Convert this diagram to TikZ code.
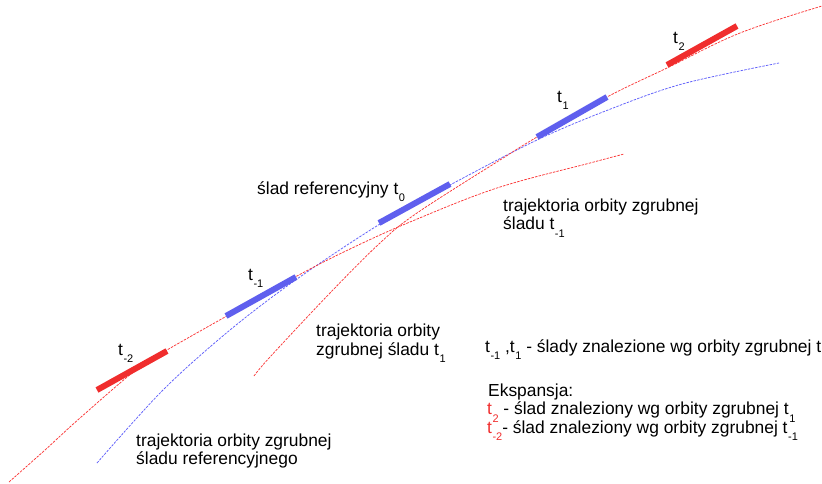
\documentclass[tikz,border=0pt]{standalone}
\usepackage{fontspec}
\setmainfont{Liberation Sans}
\definecolor{tred}{RGB}{240,45,45}
\definecolor{tblue}{RGB}{95,95,238}
\definecolor{lred}{RGB}{250,55,55}
\definecolor{lblue}{RGB}{95,95,250}
\newcommand\lo[1]{\raisebox{-7.5pt}{\kern0.5pt\fontsize{11}{11}\selectfont#1}}
\begin{document}
\begin{tikzpicture}[x=1pt,y=-1pt,
  orbit/.style={line width=0.75pt, dash pattern=on 2.5pt off 1.2pt},
  track/.style={line width=6pt},
  lbl/.style={anchor=base west, inner sep=0pt, font=\fontsize{17.4}{20}\selectfont}]
\useasboundingbox (0,0) rectangle (822,483);
% reference orbit (blue)
\draw[orbit, lblue] plot[smooth, tension=0.55] coordinates {
  (97,463) (163,390) (230,330) (297,279) (380,224)
  (450,185) (537,140) (608,110) (682,84) (779,63)};
% orbit of t-1 (red)
\draw[orbit, lred] plot[smooth, tension=0.6] coordinates {
  (9,482) (45,450) (80,418) (137,369) (167,350) (225,317) (297,276) (350,249)
  (410,222) (497,188) (590,163) (624,154)};
% orbit of t1 (red)
\draw[orbit, lred] plot[smooth, tension=0.6] coordinates {
  (254,376) (270,357) (330,293) (380,243) (417,213) (500,160) (537,137)
  (607,97) (667,68) (740,33) (822,6)};
% tracks
\draw[track, tred]  (97,390) -- (167,351);
\draw[track, tblue] (226,316) -- (296,277);
\draw[track, tblue] (379,223) -- (450,184);
\draw[track, tblue] (537,137) -- (607,97);
\draw[track, tred]  (667,65) -- (737,26);
% labels
\node[lbl] (lm2) at (118,355) {t\lo{-2}};
\node[lbl] (lm1) at (248,280) {t\lo{-1}};
\node[lbl] (l0) at (257,194) {ślad referencyjny t\lo{0}};
\node[lbl] (l1) at (557,102) {t\lo{1}};
\node[lbl] (l2) at (673,43) {t\lo{2}};
\node[lbl] (a1) at (503,211) {trajektoria orbity zgrubnej};
\node[lbl] (a2) at (503,229.5) {śladu t\lo{-1}};
\node[lbl] (b1) at (316,336.5) {trajektoria orbity};
\node[lbl] (b2) at (316,355) {zgrubnej śladu t\lo{1}};
\node[lbl] (c1) at (136,446.5) {trajektoria orbity zgrubnej};
\node[lbl] (c2) at (136,464.5) {śladu referencyjnego};
\node[lbl] (d1) at (485,352) {t\lo{-1} ,t\lo{1} - ślady znalezione wg orbity zgrubnej t};
\node[lbl] (e0) at (488,396.5) {Ekspansja:};
\node[lbl] (e1) at (487,414.5) {\textcolor{tred}{t\lo{2}} - ślad znaleziony wg orbity zgrubnej t\lo{1}};
\node[lbl] (e2) at (487,433) {\textcolor{tred}{t\lo{-2}}- ślad znaleziony wg orbity zgrubnej t\lo{-1}};
\end{tikzpicture}
\end{document}
